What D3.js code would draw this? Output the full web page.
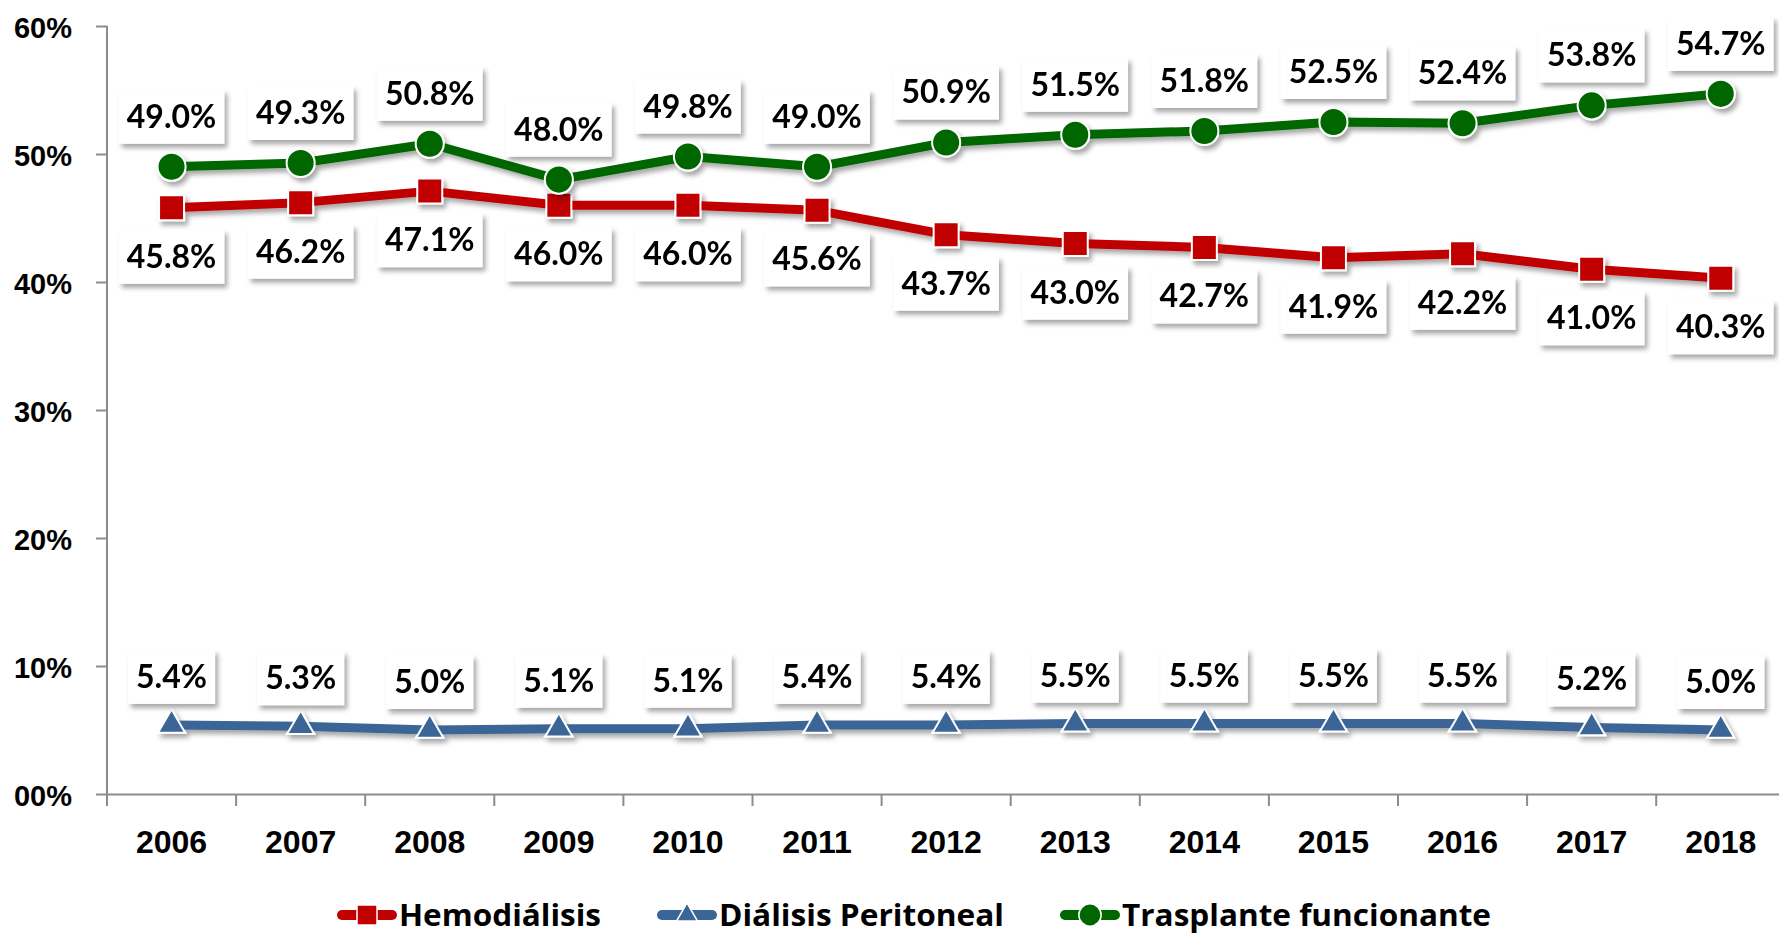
<!DOCTYPE html>
<html>
<head>
<meta charset="utf-8">
<script src="https://cdn.jsdelivr.net/npm/d3@7"></script>
<style>
html, body { margin: 0; padding: 0; background: #fff; }
svg { display: block; font-family: Lato, "Open Sans", sans-serif; font-weight: 700; }
</style>
</head>
<body>
<div id="chart"></div>
<script>
// ----------------------------------------------------------
// DATA -----------------------------------------------------
// ----------------------------------------------------------
var years = ["2006","2007","2008","2009","2010","2011","2012","2013","2014","2015","2016","2017","2018"];
var hemodialisis = [45.8, 46.2, 47.1, 46.0, 46.0, 45.6, 43.7, 43.0, 42.7, 41.9, 42.2, 41.0, 40.3];
var dialisisPeritoneal = [5.4, 5.3, 5.0, 5.1, 5.1, 5.4, 5.4, 5.5, 5.5, 5.5, 5.5, 5.2, 5.0];
var trasplante = [49.0, 49.3, 50.8, 48.0, 49.8, 49.0, 50.9, 51.5, 51.8, 52.5, 52.4, 53.8, 54.7];
var yTicks = [0, 10, 20, 30, 40, 50, 60];
var seriesNames = ["Hemodiálisis", "Diálisis Peritoneal", "Trasplante funcionante"];

// ----------------------------------------------------------
// SETUP ----------------------------------------------------
// ----------------------------------------------------------
var W = 1779, H = 935;
var plot = { left: 107, top: 26, bottom: 794, band: 129.1 };

var series = [
  { name: seriesNames[0], values: hemodialisis, color: "#c00000", symbol: d3.symbolSquare, size: 625, lsize: 400, labelDy: 49 },
  { name: seriesNames[1], values: dialisisPeritoneal, color: "#3a6596", symbol: d3.symbolTriangle, size: 320, lsize: 190, labelDy: -48 },
  { name: seriesNames[2], values: trasplante, color: "#006600", symbol: d3.symbolCircle, size: 620, lsize: 390, labelDy: -50 }
];

var svg = d3.select("#chart").append("svg")
  .attr("width", W)
  .attr("height", H);

// shadow filter
var defs = svg.append("defs");
defs.append("filter").attr("id", "shadow")
  .attr("x", "-20%").attr("y", "-20%").attr("width", "150%").attr("height", "160%")
  .append("feDropShadow")
  .attr("dx", 3).attr("dy", 4).attr("stdDeviation", 2.5)
  .attr("flood-color", "#000").attr("flood-opacity", 0.35);

// scales
var x = d3.scaleBand()
  .domain(years)
  .range([plot.left, plot.left + plot.band * years.length]);

var y = d3.scaleLinear()
  .domain([0, 60])
  .range([plot.bottom, plot.top]);

// ----------------------------------------------------------
// AXES -----------------------------------------------------
// ----------------------------------------------------------
var axisColor = "#8c8c8c";

svg.append("g")
  .attr("transform", "translate(" + plot.left + ",0)")
  .call(d3.axisLeft(y)
    .tickValues(yTicks)
    .tickSize(11)
    .tickPadding(24)
    .tickFormat(function(d) { return d3.format("02d")(d) + "%"; }))
  .call(function(g) {
    g.select(".domain").attr("stroke", axisColor).attr("stroke-width", 2)
      .attr("d", "M0," + plot.top + "V" + (plot.bottom + 11));
    g.selectAll(".tick line").attr("stroke", axisColor).attr("stroke-width", 2);
    g.selectAll(".tick text")
      .attr("font-size", 29).attr("fill", "#000").attr("dy", "0.38em");
  });

var xAxis = svg.append("g")
  .attr("transform", "translate(0," + plot.bottom + ")")
  .call(d3.axisBottom(x).tickSize(0).tickPadding(36))
  .call(function(g) {
    g.select(".domain").attr("stroke", axisColor).attr("stroke-width", 2);
    g.selectAll(".tick text").attr("font-size", 32).attr("fill", "#000");
  });

// tick marks at band boundaries
xAxis.selectAll(".bound")
  .data(years.concat(["end"]))
  .enter().append("line")
  .attr("class", "bound")
  .attr("x1", function(d) { return d === "end" ? x.range()[1] : x(d); })
  .attr("x2", function(d) { return d === "end" ? x.range()[1] : x(d); })
  .attr("y1", 0).attr("y2", 12)
  .attr("stroke", axisColor).attr("stroke-width", 2);

// ----------------------------------------------------------
// LINES + MARKERS ------------------------------------------
// ----------------------------------------------------------
var line = d3.line()
  .x(function(d, i) { return x(years[i]) + x.bandwidth() / 2; })
  .y(function(d) { return y(d); });

var gfx = svg.append("g");

series.forEach(function(s) {
  var g = gfx.append("g").attr("filter", "url(#shadow)");
  g.append("path")
    .attr("d", line(s.values))
    .attr("fill", "none")
    .attr("stroke", s.color)
    .attr("stroke-width", 9)
    .attr("stroke-linejoin", "round");
  g.selectAll(".marker")
    .data(s.values)
    .enter().append("path")
    .attr("class", "marker")
    .attr("transform", function(d, i) {
      return "translate(" + (x(years[i]) + x.bandwidth() / 2) + "," + y(d) + ")";
    })
    .attr("d", d3.symbol().type(s.symbol).size(s.size))
    .attr("fill", s.color)
    .attr("stroke", "#fff")
    .attr("stroke-width", 2);
});

// ----------------------------------------------------------
// DATA LABELS ----------------------------------------------
// ----------------------------------------------------------
var labels = svg.append("g");

series.forEach(function(s) {
  s.values.forEach(function(v, i) {
    var cx = x(years[i]) + x.bandwidth() / 2;
    var cy = y(v) + s.labelDy;
    var lg = labels.append("g");
    var t = lg.append("text")
      .attr("x", cx)
      .attr("y", cy + 11)
      .attr("text-anchor", "middle")
      .attr("font-size", 32)
      .attr("fill", "#000")
      .text(d3.format(".1f")(v) + "%");
    var bb = t.node().getBBox();
    lg.insert("rect", "text")
      .attr("x", cx - bb.width / 2 - 8)
      .attr("y", cy - 27)
      .attr("width", bb.width + 16)
      .attr("height", 54)
      .attr("fill", "#fff")
      .attr("filter", "url(#shadow)");
  });
});

// ----------------------------------------------------------
// LEGEND ---------------------------------------------------
// ----------------------------------------------------------
var legendTextWidths = [202, 285, 369];
var symW = 60, gapText = 2, gapItem = 56;
var totalW = d3.sum(legendTextWidths) + series.length * (symW + gapText) + (series.length - 1) * gapItem;
var lx = 914 - totalW / 2;
var ly = 915;

var legend = svg.append("g").attr("class", "legend");
series.forEach(function(s, i) {
  var item = legend.append("g").attr("transform", "translate(" + lx + "," + ly + ")");
  item.append("line")
    .attr("x1", 5).attr("x2", symW - 5)
    .attr("stroke", s.color).attr("stroke-width", 10)
    .attr("stroke-linecap", "round");
  item.append("path")
    .attr("transform", "translate(" + symW / 2 + ",0)")
    .attr("d", d3.symbol().type(s.symbol).size(s.lsize))
    .attr("fill", s.color)
    .attr("stroke", "#fff").attr("stroke-width", 1.5);
  item.append("text")
    .attr("x", symW + gapText)
    .attr("y", 11)
    .attr("font-family", "'Open Sans', Lato, sans-serif")
    .attr("font-size", 30)
    .attr("textLength", legendTextWidths[i])
    .attr("lengthAdjust", "spacingAndGlyphs")
    .attr("fill", "#000")
    .text(s.name);
  lx += symW + gapText + legendTextWidths[i] + gapItem;
});
</script>
</body>
</html>
